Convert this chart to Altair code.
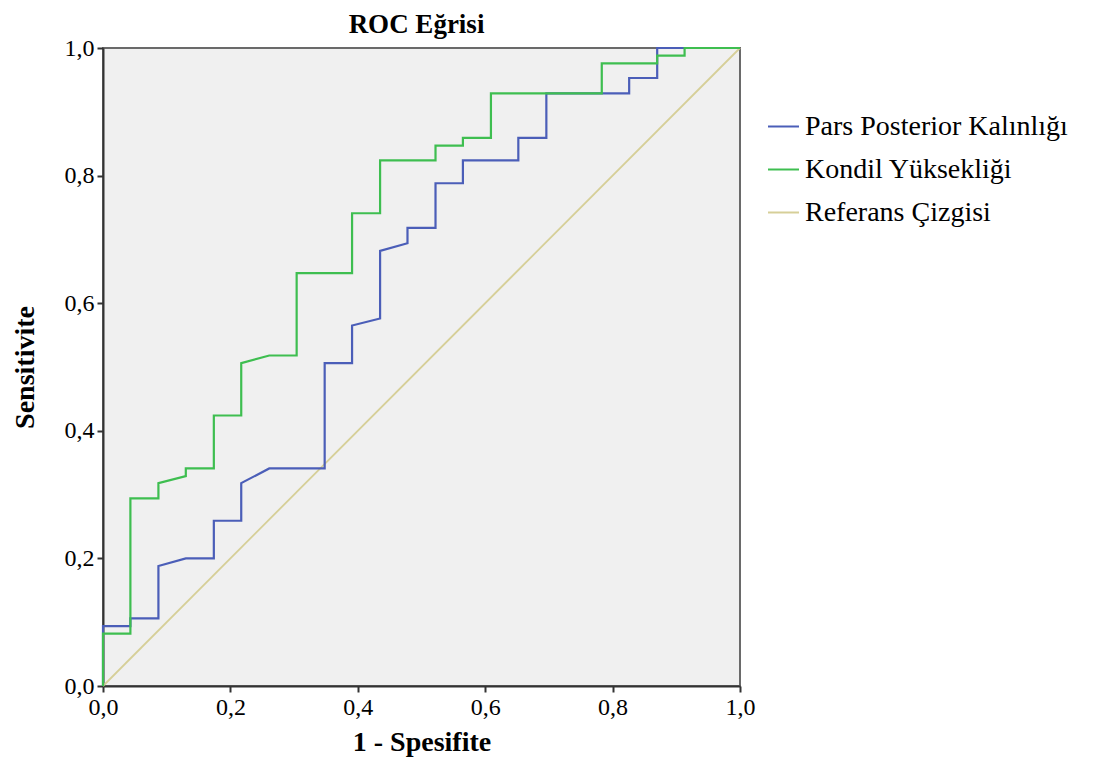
import altair as alt
import pandas as pd

# Pars Posterior Kalınlığı ROC curve (1 - specificity, sensitivity)
pars_x = [0.0, 0.0, 0.043, 0.043, 0.087, 0.087, 0.130, 0.174, 0.174, 0.217, 0.217, 0.261,
          0.348, 0.348, 0.391, 0.391, 0.435, 0.435, 0.478, 0.478, 0.522, 0.522, 0.565,
          0.565, 0.652, 0.652, 0.696, 0.696, 0.826, 0.826, 0.870, 0.870, 1.0]
pars_y = [0.0, 0.094, 0.094, 0.106, 0.106, 0.188, 0.200, 0.200, 0.259, 0.259, 0.318, 0.341,
          0.341, 0.506, 0.506, 0.565, 0.576, 0.682, 0.694, 0.718, 0.718, 0.788, 0.788,
          0.824, 0.824, 0.859, 0.859, 0.929, 0.929, 0.953, 0.953, 1.0, 1.0]

# Kondil Yüksekliği ROC curve
kondil_x = [0.0, 0.0, 0.043, 0.043, 0.087, 0.087, 0.130, 0.130, 0.174, 0.174, 0.217, 0.217,
            0.261, 0.304, 0.304, 0.391, 0.391, 0.435, 0.435, 0.522, 0.522, 0.565, 0.565,
            0.609, 0.609, 0.783, 0.783, 0.870, 0.870, 0.913, 0.913, 1.0]
kondil_y = [0.0, 0.082, 0.082, 0.294, 0.294, 0.318, 0.329, 0.341, 0.341, 0.424, 0.424, 0.506,
            0.518, 0.518, 0.647, 0.647, 0.741, 0.741, 0.824, 0.824, 0.847, 0.847, 0.859,
            0.859, 0.929, 0.929, 0.976, 0.976, 0.988, 0.988, 1.0, 1.0]

# Reference line
ref_x = [0.0, 1.0]
ref_y = [0.0, 1.0]

series_names = ["Pars Posterior Kalınlığı", "Kondil Yüksekliği", "Referans Çizgisi"]
series_colors = ["#4B5EB8", "#3EBE50", "#D6CF98"]

rows = []
for name, xs, ys in [(series_names[2], ref_x, ref_y),
                     (series_names[0], pars_x, pars_y),
                     (series_names[1], kondil_x, kondil_y)]:
    for i, (a, b) in enumerate(zip(xs, ys)):
        rows.append({"seri": name, "x": a, "y": b, "sira": i})
df = pd.DataFrame(rows)

FONT = "Liberation Serif"
label_expr = "replace(format(datum.value, '.1f'), '.', ',')"

color = alt.Color(
    "seri:N",
    scale=alt.Scale(domain=series_names, range=series_colors),
    legend=alt.Legend(
        title=None,
        orient="none",
        legendX=664,
        legendY=62,
        symbolType="stroke",
        symbolSize=961,
        symbolStrokeWidth=2,
        labelFont=FONT,
        labelFontSize=28,
        labelColor="#000000",
        labelOffset=5,
        rowPadding=12,
        labelLimit=400,
    ),
)

base = alt.Chart(df).encode(
    x=alt.X("x:Q", scale=alt.Scale(domain=[0, 1], nice=False),
            axis=alt.Axis(title="1 - Spesifite", values=[0, 0.2, 0.4, 0.6, 0.8, 1.0],
                          labelExpr=label_expr)),
    y=alt.Y("y:Q", scale=alt.Scale(domain=[0, 1], nice=False),
            axis=alt.Axis(title="Sensitivite", values=[0, 0.2, 0.4, 0.6, 0.8, 1.0],
                          labelExpr=label_expr)),
    color=color,
    order="sira:Q",
    detail="seri:N",
)

ref_line = base.transform_filter(alt.datum.seri == series_names[2]).mark_line(strokeWidth=1.8)
pars_line = base.transform_filter(alt.datum.seri == series_names[0]).mark_line(strokeWidth=2.2)
kondil_line = base.transform_filter(alt.datum.seri == series_names[1]).mark_line(strokeWidth=2.2)

chart = alt.layer(ref_line, pars_line, kondil_line).properties(
    width=637,
    height=638,
    title=alt.TitleParams("ROC Eğrisi", font=FONT, fontSize=27, fontWeight="bold",
                          color="#000000", anchor="middle", frame="group", offset=-3, dx=-5),
    autosize=alt.AutoSizeParams(type="none"),
    padding={"left": 95, "top": 40, "right": 360, "bottom": 72},
).configure_view(
    fill="#F0F0F0", stroke="#6A6A6A", strokeWidth=2
).configure_axis(
    grid=False,
    domainColor="#333333",
    domainWidth=2,
    tickColor="#333333",
    tickWidth=2,
    tickSize=6,
    labelFont=FONT,
    labelFontSize=24,
    labelColor="#000000",
    titleFont=FONT,
    titleFontSize=28,
    titleFontWeight="bold",
    titleColor="#000000",
).configure_axisX(
    labelPadding=3, titlePadding=9, labelFlush=False
).configure_axisY(
    labelPadding=3, titlePadding=25, labelFlush=False
)

chart.save("out.html", embed_options={"renderer": "svg", "actions": False})
